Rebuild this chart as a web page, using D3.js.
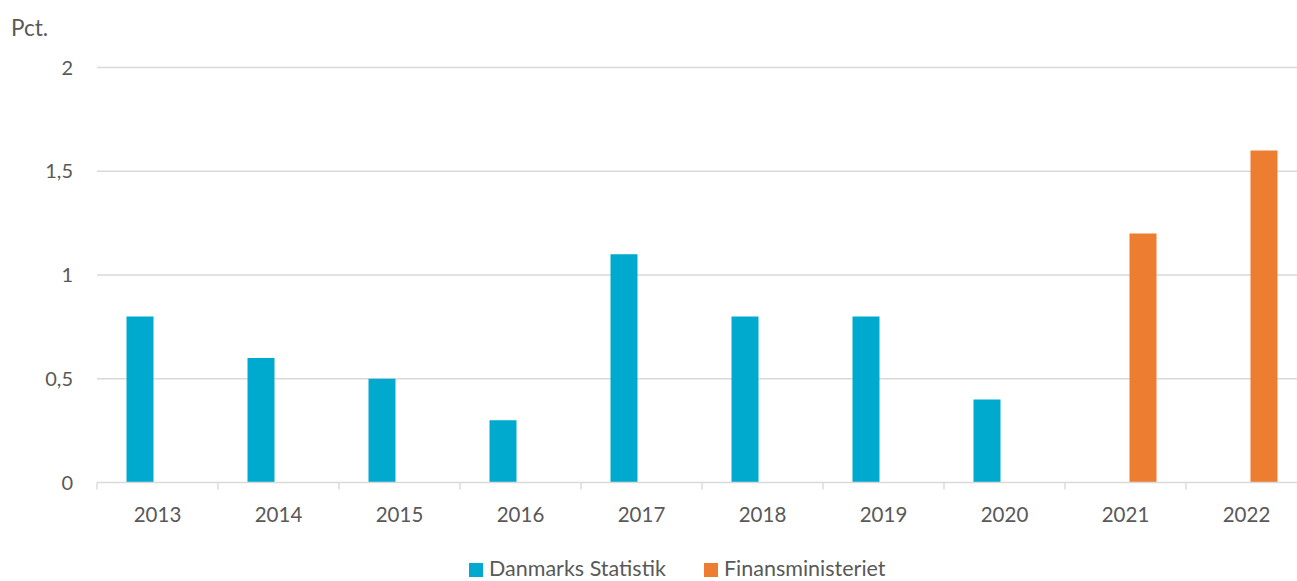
<!DOCTYPE html>
<html><head><meta charset="utf-8">
<script src="https://cdn.jsdelivr.net/npm/d3@7"></script>
<style>body{margin:0;background:#fff}svg{display:block}text{font-family:Lato,"Open Sans",sans-serif;fill:#595959}</style>
</head><body><svg id="c" width="1297" height="581"></svg>
<script>
const years = ["2013","2014","2015","2016","2017","2018","2019","2020","2021","2022"];
const seriesNames = ["Danmarks Statistik","Finansministeriet"];
const danmarksStatistik = [0.8,0.6,0.5,0.3,1.1,0.8,0.8,0.4,null,null];
const finansministeriet = [null,null,null,null,null,null,null,null,1.2,1.6];
const yTicks = [0,0.5,1,1.5,2];
const colors = ["#00A9CE","#ED7D31"];

const svg = d3.select("#c");
const plotLeft = 97, bandW = 121, plotTop = 67.5, plotBottom = 482.5;
const x = d3.scaleBand().domain(years).range([plotLeft, plotLeft + bandW*years.length]);
const y = d3.scaleLinear().domain([0,2]).range([plotBottom, plotTop]);
const fmt = d => String(d).replace(".", ",");

// gridlines
svg.append("g").selectAll("line").data(yTicks.filter(d=>d>0)).join("line")
  .attr("x1", plotLeft).attr("x2", 1297).attr("y1", d=>y(d)).attr("y2", d=>y(d))
  .attr("stroke","#d9d9d9").attr("stroke-width",1.4);
// y labels
svg.append("g").selectAll("text").data(yTicks).join("text")
  .attr("x", 73).attr("y", d=>y(d)).attr("dy","0.35em").attr("text-anchor","end")
  .attr("font-size",20).text(fmt);
svg.append("text").attr("x",11).attr("y",28).attr("dy","0.35em").attr("font-size",22.5).text("Pct.");

// bars
const bw = 27, gap = 4;
const series = [danmarksStatistik, finansministeriet];
series.forEach((vals, si) => {
  svg.append("g").selectAll("rect").data(years.map((yr,i)=>({yr, v: vals[i]})).filter(d=>d.v!=null)).join("rect")
    .attr("x", d => x(d.yr) + x.bandwidth()/2 + (si===0 ? -gap-bw : gap))
    .attr("width", bw)
    .attr("y", d => y(d.v)).attr("height", d => y(0) - y(d.v))
    .attr("fill", colors[si]);
});

// x axis
const xAxis = svg.append("g");
xAxis.append("line").attr("x1",plotLeft).attr("x2",1297).attr("y1",plotBottom).attr("y2",plotBottom).attr("stroke","#d9d9d9").attr("stroke-width",1.4);
xAxis.selectAll("line.t").data(years.concat(["end"])).join("line").attr("class","t")
  .attr("x1",(d,i)=>plotLeft+i*bandW).attr("x2",(d,i)=>plotLeft+i*bandW)
  .attr("y1",plotBottom).attr("y2",plotBottom+7).attr("stroke","#d9d9d9").attr("stroke-width",1.4);
xAxis.selectAll("text").data(years).join("text")
  .attr("x", d=>x(d)+x.bandwidth()/2).attr("y", 514.5).attr("dy","0.35em")
  .attr("text-anchor","middle").attr("font-size",20.5).text(d=>d);

// legend
const leg = svg.append("g");
const legX = [469, 704];
seriesNames.forEach((n,i)=>{
  leg.append("rect").attr("x",legX[i]).attr("y",563).attr("width",14).attr("height",14).attr("fill",colors[i]);
  leg.append("text").attr("x",legX[i]+20).attr("y",576).attr("font-size",21.5).text(n);
});
</script></body></html>
